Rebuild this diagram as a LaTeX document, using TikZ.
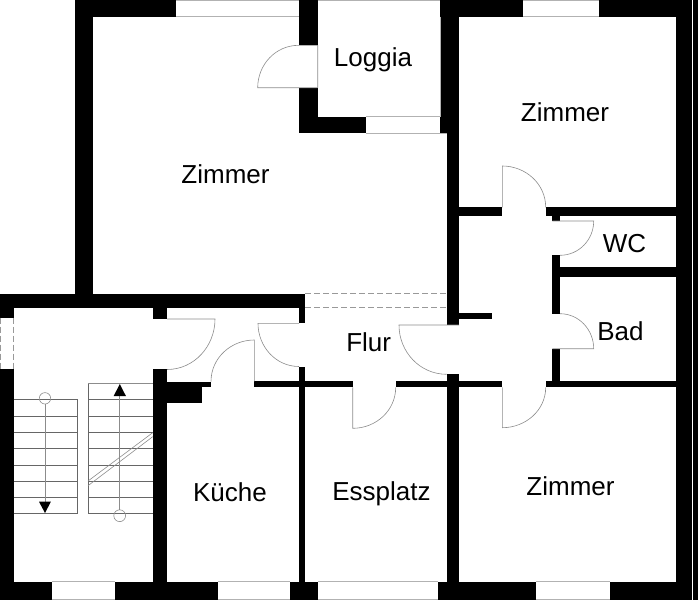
\documentclass[tikz,border=0pt]{standalone}
\usepackage{fontspec}
\setmainfont{Liberation Sans}
\usepackage{tikz}
\tikzset{
	wall/.style={fill=black},
	trait/.style={draw=black!45, line width=0.6pt},
	bord/.style={draw=black!30, line width=1pt},
	pointille/.style={draw=black!40, line width=0.6pt, dash pattern=on 6pt off 3pt},
	marche/.style={draw=black!60, line width=0.7pt},
	piece/.style={anchor=base, font=\fontsize{26}{30}\selectfont},
}
\begin{document}
\begin{tikzpicture}[x=1pt, y=-1pt]
	\useasboundingbox (0,0) rectangle (698,600);

	\fill[wall] (75,0) rectangle (176,16.7);
	\fill[wall] (75,0) rectangle (93.3,294);
	\fill[wall] (0,293.5) rectangle (305,307.5);
	\fill[wall] (0,293.5) rectangle (13.5,317.7);
	\fill[wall] (0,369) rectangle (13.5,600);
	\fill[wall] (152.7,307) rectangle (166.7,319);
	\fill[wall] (152.7,369.3) rectangle (166.7,600);
	\fill[wall] (166.7,381.5) rectangle (211,387.3);
	\fill[wall] (166.7,387) rectangle (202,402.5);
	\fill[wall] (254.3,381.3) rectangle (352.7,387.3);
	\fill[wall] (299,307) rectangle (305,323.3);
	\fill[wall] (299,366.5) rectangle (305,600);
	\fill[wall] (298.7,0) rectangle (317.7,45.3);
	\fill[wall] (298.7,87.7) rectangle (317.7,133);
	\fill[wall] (298.7,116.7) rectangle (366,133);
	\fill[wall] (440,0) rectangle (459,133);
	\fill[wall] (446.7,133) rectangle (459,325);
	\fill[wall] (459,313.3) rectangle (491.7,319);
	\fill[wall] (440,0) rectangle (523.3,16.7);
	\fill[wall] (598.7,0) rectangle (691.5,16.7);
	\fill[wall] (676.3,0) rectangle (691.5,600);
	\fill[wall] (692.8,0) rectangle (698,600);
	\fill[wall] (459,207.3) rectangle (502.3,215.7);
	\fill[wall] (545.7,207.3) rectangle (676.3,215.7);
	\fill[wall] (552.3,215.7) rectangle (560,221);
	\fill[wall] (552.3,255.3) rectangle (560,313.7);
	\fill[wall] (560,266.7) rectangle (676.3,277.3);
	\fill[wall] (552.3,348.7) rectangle (560,387);
	\fill[wall] (395.7,381) rectangle (502.3,387.3);
	\fill[wall] (545.7,381) rectangle (676.3,387.3);
	\fill[wall] (446.7,374.3) rectangle (459,600);
	\fill[wall] (0,581.7) rectangle (51.5,600);
	\fill[wall] (114.7,581.7) rectangle (217.5,600);
	\fill[wall] (290,581.7) rectangle (317.8,600);
	\fill[wall] (438.4,581.7) rectangle (536,600);
	\fill[wall] (609.6,581.7) rectangle (691.5,600);

	\draw[bord] (176,0.5) -- (298.7,0.5) (176,16.7) -- (298.7,16.7);
	\draw[bord] (317.7,0.5) -- (440,0.5) (440,16.7) -- (440,116.7);
	\draw[bord] (523.3,0.5) -- (598.7,0.5) (523.3,16.7) -- (598.7,16.7);
	\draw[bord] (366,116.7) -- (440,116.7) (366,133) -- (446.7,133);
	\draw[bord] (51.5,581.7) -- (114.7,581.7) (51.5,599.5) -- (114.7,599.5);
	\draw[bord] (217.5,581.7) -- (290,581.7) (217.5,599.5) -- (290,599.5);
	\draw[bord] (317.8,581.7) -- (438.4,581.7) (317.8,599.5) -- (438.4,599.5);
	\draw[bord] (536,581.7) -- (609.6,581.7) (536,599.5) -- (609.6,599.5);

	\draw[pointille] (305,293.3) -- (446.7,293.3);
	\draw[pointille] (305,307.7) -- (446.7,307.7);
	\draw[pointille] (0.6,317.7) -- (0.6,369);
	\draw[pointille] (13.3,317.7) -- (13.3,369);

	\draw[trait] (167,319) -- (215,319) to[out=-90, in=0] (167,369.5);
	\draw[trait] (254.3,381.3) -- (254.3,340) to[out=180, in=90] (211,381.5);
	\draw[trait] (299,323.3) -- (258,323.3) to[out=-90, in=180] (299,366.5);
	\draw[trait] (317.7,87.7) -- (257.7,87.7) to[out=90, in=180] (298.7,45.3) -- (317.7,45.3) -- (317.7,87.7);
	\draw[trait] (502.3,207.3) -- (502.3,166) to[out=0, in=90] (545.7,207.3);
	\draw[trait] (552.3,221) -- (593.7,221) to[out=-90, in=0] (560,255.3);
	\draw[trait] (552.3,348.7) -- (593.7,348.7) to[out=90, in=0] (560,313.7);
	\draw[trait] (502.3,387.3) -- (502.3,427.7) to[out=0, in=-90] (545.7,387.3);
	\draw[trait] (352.7,387.3) -- (352.7,428.3) to[out=0, in=-90] (395.7,387.3);
	\draw[trait] (459,325) -- (399,325) to[out=-90, in=180] (446.7,374.3);

	\draw[marche] (13.5,399.7) -- (77.7,399.7) (88,399.7) -- (152.7,399.7);
	\draw[marche] (13.5,416) -- (77.7,416) (88,416) -- (152.7,416);
	\draw[marche] (13.5,432.3) -- (77.7,432.3) (88,432.3) -- (152.7,432.3);
	\draw[marche] (13.5,448.7) -- (77.7,448.7) (88,448.7) -- (152.7,448.7);
	\draw[marche] (13.5,465) -- (77.7,465) (88,465) -- (152.7,465);
	\draw[marche] (13.5,481.3) -- (77.7,481.3) (88,481.3) -- (152.7,481.3);
	\draw[marche] (13.5,497.3) -- (77.7,497.3) (88,497.3) -- (152.7,497.3);
	\draw[marche] (13.5,513.7) -- (77.7,513.7) (88,513.7) -- (152.7,513.7);
	\draw[marche] (77.7,399.7) -- (77.7,513.7);
	\draw[marche] (88,383.3) -- (88,513.7);
	\draw[trait] (88,383.3) -- (152.7,383.3);
	\draw[trait] (88,481) -- (152.7,432.7);
	\draw[trait] (88,485.7) -- (152.7,436.7);

	\draw[trait] (45,398.3) circle (5.7);
	\draw[trait] (119.7,515.7) circle (5.9);
	\draw[trait] (45,404) -- (45,503);
	\draw[trait] (119.7,395) -- (119.7,509.8);
	\fill[wall] (39,501.7) -- (50.9,501.7) -- (45,513) -- cycle;
	\fill[wall] (113.6,396.2) -- (126,396.2) -- (119.8,384) -- cycle;

	\node[piece] (zimmerA) at (225.5,183) {Zimmer};
	\node[piece] (loggia) at (373,66.7) {Loggia};
	\node[piece] (zimmerB) at (565,121) {Zimmer};
	\node[piece] (wc) at (624.5,252) {WC};
	\node[piece] (bad) at (620.5,340.7) {Bad};
	\node[piece] (flur) at (368.7,351) {Flur};
	\node[piece] (kueche) at (230,501) {Küche};
	\node[piece] (essplatz) at (381.5,500) {Essplatz};
	\node[piece] (zimmerC) at (570.5,495) {Zimmer};
\end{tikzpicture}
\end{document}
